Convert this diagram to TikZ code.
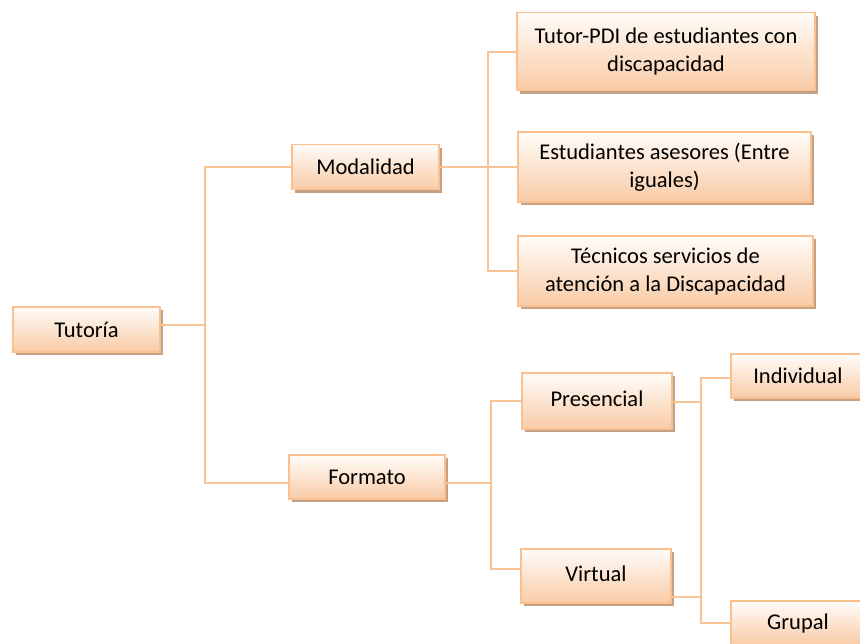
\documentclass[tikz,border=0pt]{standalone}
\usepackage{fontspec}
\setmainfont{Carlito}
\usetikzlibrary{shadows}
\definecolor{bordc}{RGB}{250,192,143}
\definecolor{topc}{RGB}{255,252,249}
\definecolor{botc}{RGB}{249,203,166}
\definecolor{shadc}{RGB}{190,150,120}
\definecolor{linec}{RGB}{250,195,150}
\tikzset{
  box/.style={draw=bordc, line width=1.6pt, top color=topc, bottom color=botc,
    inner sep=0pt, align=center, font=\fontsize{22.5}{28}\selectfont,
    drop shadow={shadow xshift=3pt, shadow yshift=-3pt, fill=shadc, opacity=0.9, draw=none}},
  conn/.style={draw=linec, line width=1.4pt}
}
\begin{document}
\begin{tikzpicture}[x=1pt,y=-1pt]
\fill[white] (0,0) rectangle (860,643);
\useasboundingbox (0,0) rectangle (860,643);
\clip (0,0) rectangle (860,643);
% junctions
\coordinate (j1) at (205,325);
\coordinate (j2) at (488,167);
\coordinate (j3) at (491,483);
\coordinate (j4) at (701,402);
% nodes
\node[box, minimum width=147pt, minimum height=45pt] (tut) at (86.5,329.5) {Tutoría};
\node[box, minimum width=147pt, minimum height=45pt] (mod) at (365.5,167) {Modalidad};
\node[box, minimum width=156pt, minimum height=44pt] (fmt) at (367,477) {Formato};
\node[box, minimum width=298pt, minimum height=78pt] (tpdi) at (666,51.5) {Tutor-PDI de estudiantes con\\discapacidad};
\node[box, minimum width=293pt, minimum height=70pt] (est) at (664.5,167) {Estudiantes asesores (Entre\\iguales)};
\node[box, minimum width=295pt, minimum height=70pt] (tec) at (665.5,271) {Técnicos servicios de\\atención a la Discapacidad};
\node[box, minimum width=150pt, minimum height=56pt] (pre) at (597,401) {\raisebox{5pt}{Presencial}};
\node[box, minimum width=150pt, minimum height=54pt] (vir) at (596,576) {\raisebox{4pt}{Virtual}};
\node[box, minimum width=134pt, minimum height=44pt] (ind) at (798,376) {Individual};
\node[box, minimum width=134pt, minimum height=44pt] (gru) at (798,623) {Grupal};
% connectors
\draw[conn] (tut.east |- j1) -- (j1);
\draw[conn] (mod.west) -| (j1);
\draw[conn] (fmt.west |- j3) -| (j1);
\draw[conn] (mod.east |- j2) -- (j2);
\draw[conn] (tpdi.west |- 0,52) -| (j2);
\draw[conn] (est.west |- j2) -| (j2);
\draw[conn] (tec.west) -| (j2);
\draw[conn] (fmt.east |- j3) -- (j3);
\draw[conn] (pre.west) -| (j3);
\draw[conn] (vir.west |- 0,569) -| (j3);
\draw[conn] (pre.east |- j4) -- (j4);
\draw[conn] (ind.west |- 0,378) -| (j4);
\draw[conn] (gru.west) -| (j4);
\draw[conn] (vir.east |- 0,597) -| (j4);
\end{tikzpicture}
\end{document}
